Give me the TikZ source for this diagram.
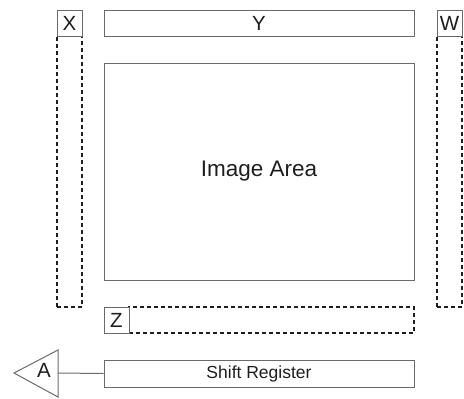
\documentclass[tikz,border=0pt]{standalone}
\usepackage{fontspec}
\setmainfont{Liberation Sans}
\usepackage{tikz}
\usepackage{xcolor}

\definecolor{edgegray}{HTML}{6A6A6A}
\definecolor{inkgray}{HTML}{1E1E1E}

\begin{document}
\begin{tikzpicture}[x=1pt, y=-1pt,
    every node/.style={rectangle, draw=edgegray, line width=1pt, inner sep=0pt, text=inkgray},
    cell/.style={fill=white, font=\fontsize{20.5}{22}\selectfont},
    dashbox/.style={draw=inkgray, line width=1.1pt, dash pattern=on 4pt off 3pt}]
                \useasboundingbox (0,0) rectangle (464,399);

                \node[dashbox, minimum width=25pt, minimum height=271pt] (Xcol) at (69.5,171.5) {};
                \node[dashbox, minimum width=25pt, minimum height=271pt] (Wcol) at (449.5,171.5) {};

                \node[cell, minimum width=25pt, minimum height=26pt] (X) at (69.5,23) {X};
                \node[cell, minimum width=310pt, minimum height=26pt] (Y) at (259,23) {Y};
                \node[cell, minimum width=25pt, minimum height=26pt] (W) at (449.5,23) {W};

                \node[minimum width=310pt, minimum height=217pt, font=\fontsize{22.5}{26}\selectfont] (img) at (259,171.5) {Image Area};

                \node[dashbox, minimum width=285pt, minimum height=26pt] (Zrow) at (271.5,320) {};
                \node[cell, minimum width=25pt, minimum height=26pt] (Z) at (116.5,320) {Z};

                \node[minimum width=310pt, minimum height=27pt, font=\fontsize{17.5}{20}\selectfont] (shift) at (259,373.5) {Shift Register};

                % output amplifier
                \draw[edgegray, line width=1pt] (14,373) -- (58,350) -- (58,397) -- cycle;
                \coordinate (tip) at (58,373);
                \node[cell, draw=none, fill=none] (A) at (44,370) {A};

                \draw[edgegray, line width=1pt] (tip) -- (shift.west);
            \end{tikzpicture}
\end{document}
